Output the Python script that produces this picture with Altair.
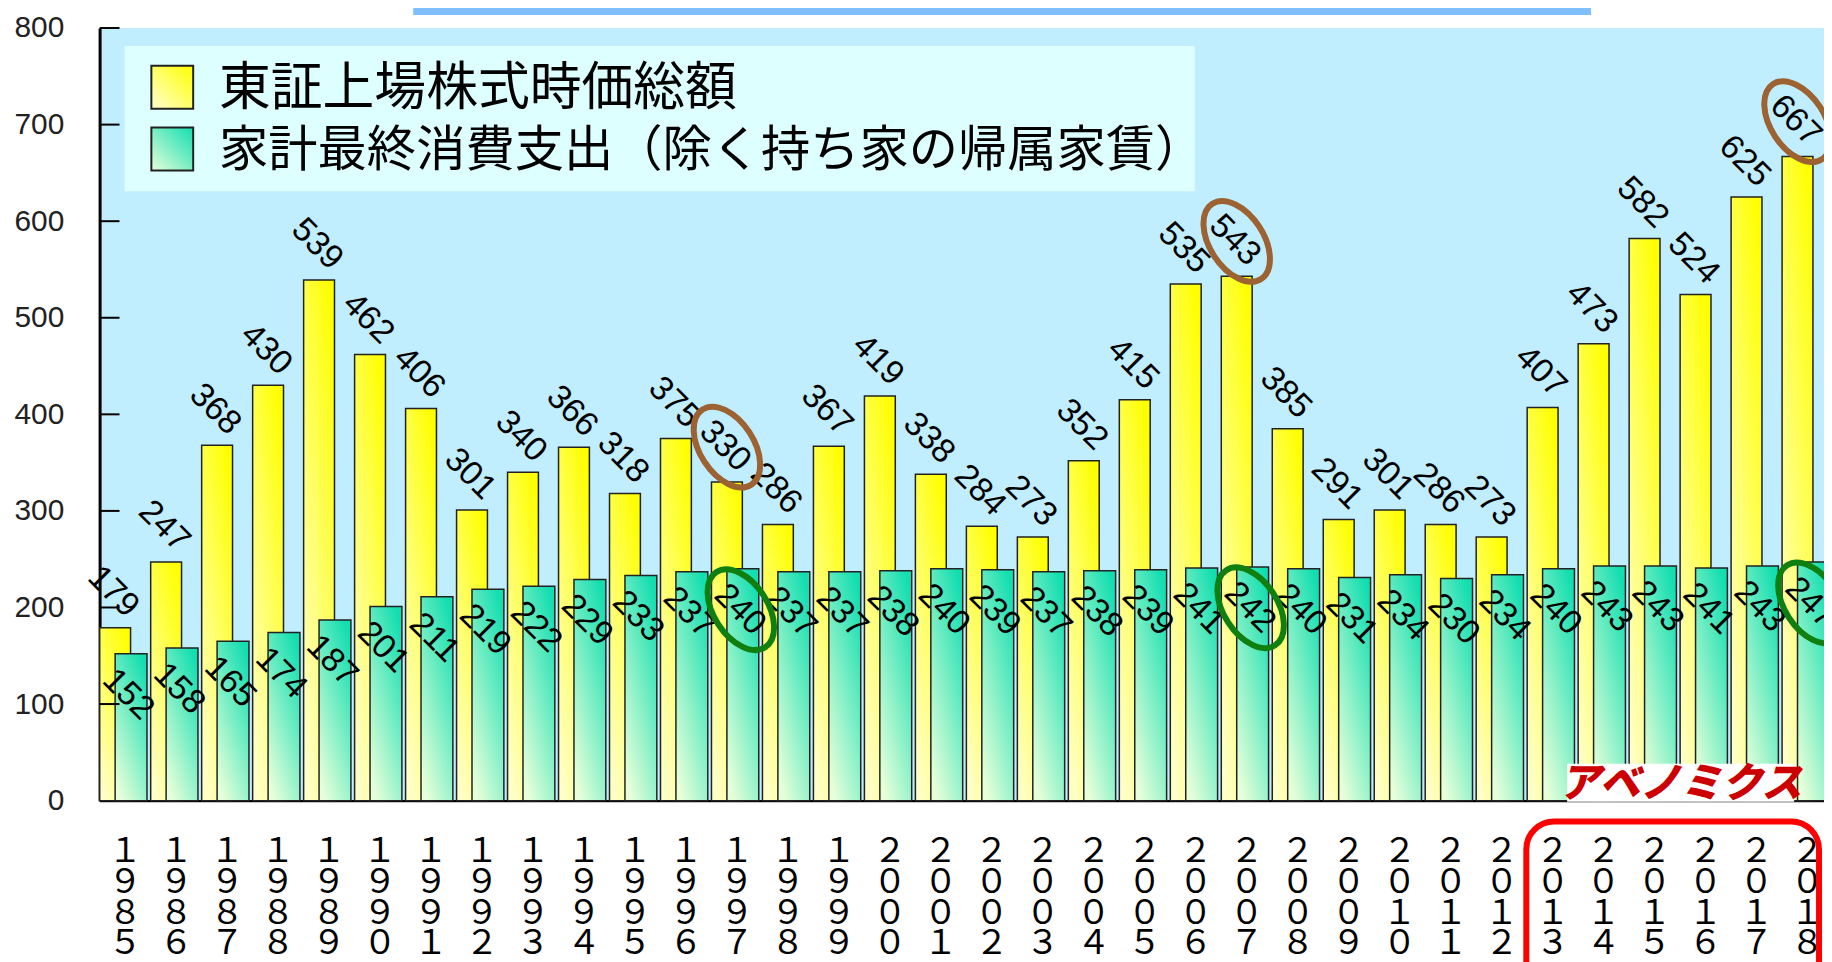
import altair as alt
import pandas as pd

# ---------------- data ----------------
years = list(range(1985, 2019))
stock = [179, 247, 368, 430, 539, 462, 406, 301, 340, 366, 318, 375, 330, 286,
         367, 419, 338, 284, 273, 352, 415, 535, 543, 385, 291, 301, 286, 273,
         407, 473, 582, 524, 625, 667]
consumption = [152, 158, 165, 174, 187, 201, 211, 219, 222, 229, 233, 237, 240,
               237, 237, 238, 240, 239, 237, 238, 239, 241, 242, 240, 231, 234,
               230, 234, 240, 243, 243, 241, 243, 247]
series_names = ["東証上場株式時価総額", "家計最終消費支出（除く持ち家の帰属家賃）"]
highlight_years = [1997, 2007, 2018]
y_ticks = [0, 100, 200, 300, 400, 500, 600, 700, 800]
annotation = ["アベノミクス"]

year_labels = [str(y) for y in years]
df = pd.DataFrame({"year": year_labels, "stock": stock, "cons": consumption})
hl = df[df["year"].isin([str(y) for y in highlight_years])]
tick_df = pd.DataFrame({"v": y_ticks[1:]})
one = pd.DataFrame({"d": [0]})

# ---------------- styles ----------------
yellow_grad = alt.LinearGradient(
    gradient="linear",
    stops=[alt.GradientStop(color="#FFFF00", offset=0),
           alt.GradientStop(color="#FFFFC8", offset=1)],
    x1=0.8, y1=0, x2=0.2, y2=1)
green_grad = alt.LinearGradient(
    gradient="linear",
    stops=[alt.GradientStop(color="#12DEB0", offset=0),
           alt.GradientStop(color="#E6FFDA", offset=1)],
    x1=0.8, y1=0, x2=0.2, y2=1)
yellow_sw = alt.LinearGradient(
    gradient="linear",
    stops=[alt.GradientStop(color="#FFFF00", offset=0),
           alt.GradientStop(color="#FFFFD0", offset=1)],
    x1=1, y1=0, x2=0, y2=1)
green_sw = alt.LinearGradient(
    gradient="linear",
    stops=[alt.GradientStop(color="#12DEB0", offset=0),
           alt.GradientStop(color="#E6FFDA", offset=1)],
    x1=1, y1=0, x2=0, y2=1)

xscale = alt.Scale(domain=year_labels, range=[0, 1741], paddingInner=0, paddingOuter=0)
yscale = alt.Scale(domain=[0, 800], nice=False, zero=True)

# stack the digits of each year vertically (as full-width digits)
fw = "'０１２３４５６７８９'"
parts = []
for k in range(4):
    d = f"toNumber(slice(datum.label,{k},{k + 1}))"
    parts.append(f"slice({fw}, {d}, {d}+1)")
label_expr = "[" + ", ".join(parts) + "]"

x_axis = alt.Axis(
    title=None, ticks=False, tickSize=0, domainColor="black", domainWidth=2.5,
    labelAngle=0, labelFont="Noto Sans CJK JP", labelFontSize=34, labelColor="black",
    labelLineHeight=31, labelBaseline="top", labelPadding=34, labelOverlap=False,
    labelBound=False, labelFlush=False, labelExpr=label_expr)
y_axis = alt.Axis(
    title=None, ticks=False, tickSize=0, grid=False, values=y_ticks,
    domainColor="black", domainWidth=3, labelFont="Liberation Sans",
    labelFontSize=30, labelColor="#222222", labelPadding=36)

X = alt.X("year:N", scale=xscale, axis=x_axis)


def Y(field):
    return alt.Y(field, scale=yscale, axis=y_axis)


base = alt.Chart(df)

# title bar (cut off at top)
title_bar = alt.Chart(one).mark_rect(fill="#80BFFF").encode(
    x=alt.value(315), x2=alt.value(1498), y=alt.value(-30), y2=alt.value(-13))

yellow = base.mark_bar(width=31, xOffset=-10, fill=yellow_grad, stroke="#222222",
                       strokeWidth=1.5).encode(x=X, y=Y("stock:Q"))
green = base.mark_bar(width=32, xOffset=6, fill=green_grad, stroke="#222222",
                      strokeWidth=1.5).encode(x=X, y=Y("cons:Q"))

lab_y = base.mark_text(angle=45, align="center", baseline="middle", fontSize=34,
                       font="Liberation Sans", color="black", xOffset=-12,
                       yOffset=-36).encode(x=X, y=Y("stock:Q"), text="stock:Q")
lab_g = base.mark_text(angle=45, align="center", baseline="middle", fontSize=34,
                       font="Liberation Sans", color="black", xOffset=3,
                       yOffset=41).encode(x=X, y=Y("cons:Q"), text="cons:Q")

ellipse = "M-1,0 A1,0.6 0 1,1 1,0 A1,0.6 0 1,1 -1,0 Z"
ell_b = alt.Chart(hl).mark_point(shape=ellipse, size=8100, angle=57, filled=False,
                                 stroke="#9C6232", strokeWidth=6, opacity=1,
                                 xOffset=-10, yOffset=-35).encode(x=X, y=Y("stock:Q"))
ell_g = alt.Chart(hl).mark_point(shape=ellipse, size=8100, angle=57, filled=False,
                                 stroke="#0F7F0F", strokeWidth=6, opacity=1,
                                 xOffset=4, yOffset=41).encode(x=X, y=Y("cons:Q"))

# legend
leg_box = alt.Chart(one).mark_rect(fill="#DDFFFF").encode(
    x=alt.value(25), x2=alt.value(1100), y=alt.value(18), y2=alt.value(164))
sw1 = alt.Chart(one).mark_rect(fill=yellow_sw, stroke="#222222", strokeWidth=2).encode(
    x=alt.value(52), x2=alt.value(94), y=alt.value(38), y2=alt.value(81))
sw2 = alt.Chart(one).mark_rect(fill=green_sw, stroke="#222222", strokeWidth=2).encode(
    x=alt.value(52), x2=alt.value(94), y=alt.value(100), y2=alt.value(143))
lt1 = alt.Chart(pd.DataFrame({"name": [series_names[0]]})).mark_text(
    align="left", baseline="middle", fontSize=52, font="Noto Sans CJK JP",
    color="black").encode(x=alt.value(120), y=alt.value(61), text="name:N")
lt2 = alt.Chart(pd.DataFrame({"name": [series_names[1]]})).mark_text(
    align="left", baseline="middle", fontSize=49.5, font="Noto Sans CJK JP",
    color="black").encode(x=alt.value(120), y=alt.value(124), text="name:N")

# y ticks pointing inward
ticks = alt.Chart(tick_df).mark_rule(color="black", strokeWidth=2).encode(
    y=Y("v:Q"), x=alt.value(0), x2=alt.value(20))

# annotation
ann_box = alt.Chart(one).mark_rect(fill="white").encode(
    x=alt.value(1474), x2=alt.value(1702), y=alt.value(739), y2=alt.value(777))
ann_txt = alt.Chart(pd.DataFrame({"t": annotation})).mark_text(
    align="center", baseline="middle", fontSize=41, font="Noto Sans CJK JP",
    fontWeight=900, fontStyle="italic", color="#CC0000").encode(
    x=alt.value(1588), y=alt.value(760), text="t:N")
red_box = alt.Chart(one).mark_rect(fillOpacity=0, stroke="#FF0000", strokeWidth=6,
                                   cornerRadius=28).encode(
    x=alt.value(1433), x2=alt.value(1727), y=alt.value(797), y2=alt.value(1010))

chart = alt.layer(
    title_bar, yellow, green, lab_y, lab_g, ell_b, ell_g,
    leg_box, sw1, sw2, lt1, lt2, ticks, ann_box, ann_txt, red_box
).properties(
    width=1732, height=776,
    autosize=alt.AutoSizeParams(type="none"),
    padding={"left": 92, "top": 18, "right": 0, "bottom": 170},
).configure_view(fill="#C0EEFF", strokeWidth=0)

chart.save("out.html", embed_options={"renderer": "svg", "actions": False})
